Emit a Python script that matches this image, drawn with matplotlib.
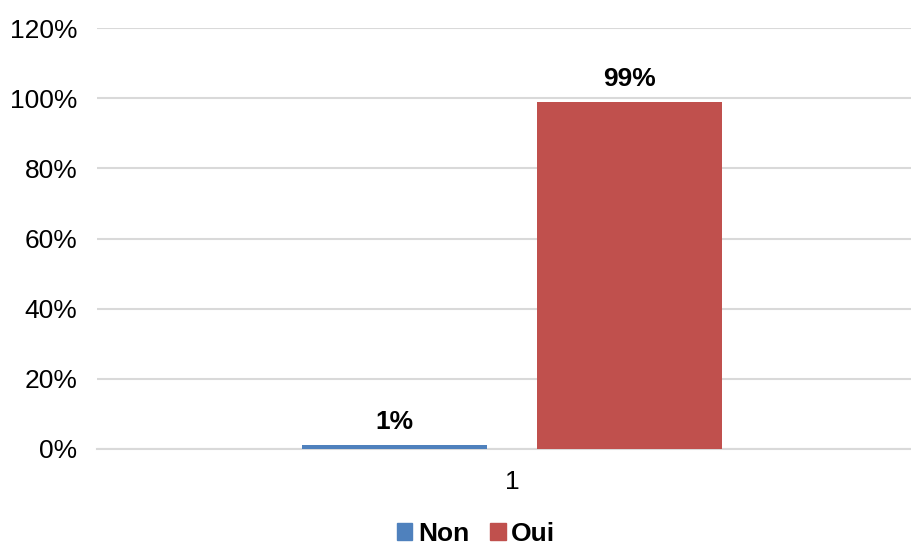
import matplotlib.pyplot as plt
from matplotlib.patches import Patch

plt.rcParams['font.family'] = ['Liberation Sans', 'DejaVu Sans']

categories = ["1"]
series_names = ["Non", "Oui"]
series_values = [[1], [99]]
series_colors = ["#4F81BD", "#C0504D"]
y_ticks = [0, 20, 40, 60, 80, 100, 120]

fig = plt.figure(figsize=(9.11, 5.45), dpi=100)
ax = fig.add_axes([97 / 911, 1 - 449 / 545, 1 - 97 / 911, (449 - 28) / 545])

bar_w = 0.36
offsets = [-0.228, 0.228]
for name, vals, col, off in zip(series_names, series_values, series_colors, offsets):
    xs = [i + off for i in range(len(categories))]
    bars = ax.bar(xs, vals, width=bar_w, color=col, zorder=3, label=name)
    for b, v in zip(bars, vals):
        ax.annotate(f"{v}%", (b.get_x() + b.get_width() / 2, v),
                    xytext=(0, 8), textcoords="offset points",
                    ha="center", va="bottom", fontsize=19, fontweight="bold")

ax.set_ylim(0, 120)
ax.set_xlim(-0.807, 0.776)
ax.set_yticks(y_ticks)
ax.set_yticklabels([f"{t}%" for t in y_ticks], fontsize=19)
ax.set_xticks(range(len(categories)))
ax.set_xticklabels(categories, fontsize=19)
ax.tick_params(axis="both", length=0)
ax.tick_params(axis="y", pad=14)
ax.tick_params(axis="x", pad=15)
ax.grid(axis="y", color="#d9d9d9", linewidth=1.5, zorder=0)
for s in ["top", "right", "left"]:
    ax.spines[s].set_visible(False)
ax.spines["bottom"].set_color("#d9d9d9")
ax.spines["bottom"].set_linewidth(1.5)

handles = [Patch(color=c, label=n) for n, c in zip(series_names, series_colors)]
fig.legend(handles=handles, loc="center", bbox_to_anchor=(476 / 911, 1 - 534 / 545),
           ncol=2, frameon=False, handlelength=0.6, handleheight=0.6,
           handletextpad=0.2, columnspacing=0.8,
           prop={"size": 19, "weight": "bold"})

fig.savefig("out.png", dpi=100)
